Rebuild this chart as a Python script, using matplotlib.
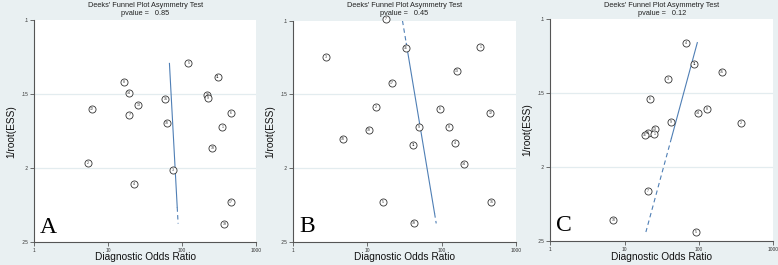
import matplotlib
matplotlib.use("Agg")
import matplotlib.pyplot as plt

# ---------------- data ----------------
a_dor = [122, 306, 16.4, 19.2, 220, 222, 59.5, 25.7, 5.95, 19.4, 455, 62, 351, 257, 5.37, 75.5, 22, 459, 373]
a_y = [0.1293, 0.1385, 0.1417, 0.1495, 0.1507, 0.1525, 0.1534, 0.1574, 0.1599, 0.1642, 0.1626, 0.1694, 0.1723, 0.1863, 0.1964, 0.2014, 0.2104, 0.2228, 0.2376]
a_lab = ["5", "11", "8", "14", "16", "9", "15", "13", "12", "7", "6", "10", "1", "18", "2", "3", "4", "17", "19"]

b_dor = [17.7, 33, 333, 2.76, 161, 21.5, 13, 96, 455, 49.4, 126, 10.5, 4.69, 151, 41.4, 202, 16, 469, 42.7]
b_y = [0.0989, 0.1183, 0.1181, 0.1249, 0.1342, 0.1421, 0.1586, 0.1600, 0.1629, 0.1719, 0.1724, 0.1742, 0.1805, 0.1828, 0.1844, 0.1973, 0.2229, 0.2229, 0.2376]
b_lab = ["7", "16", "1", "3", "13", "17", "2", "6", "12", "9", "8", "18", "10", "4", "11", "14", "5", "15", "19"]

c_dor = [67.9, 87, 203, 38.5, 22, 128, 97.5, 42.2, 370, 25.4, 20.5, 25.2, 18.7, 20.9, 7.06, 92.6]
c_y = [0.1158, 0.1303, 0.1357, 0.1407, 0.1538, 0.1610, 0.1635, 0.1694, 0.1705, 0.1743, 0.1773, 0.1775, 0.1786, 0.2164, 0.2358, 0.2441]
c_lab = ["4", "11", "15", "3", "6", "8", "14", "9", "2", "13", "12", "1", "16", "7", "10", "5"]

# regression lines: (dor, y) vertices with style of each segment
a_line_dor = [67.4, 85.9, 88.3]
a_line_y = [0.1293, 0.2264, 0.2374]
a_line_style = ["-", "--"]

b_line_dor = [29.7, 33.4, 80.4, 84.7]
b_line_y = [0.1000, 0.1154, 0.2307, 0.2376]
b_line_style = ["--", "-", "--"]

c_line_dor = [95.6, 42.9, 19.4]
c_line_y = [0.1158, 0.1804, 0.2441]
c_line_style = ["-", "--"]

pvalues = ["0.85", "0.45", "0.12"]
letters = ["A", "B", "C"]
xticks = [1, 10, 100, 1000]
xticklabels = ["1", "10", "100", "1000"]
yticks = [0.1, 0.15, 0.2, 0.25]
yticklabels = [".1", ".15", ".2", ".25"]

# ---------------- drawing ----------------
W, H = 778, 265
BG = "#e9f0f2"
LINEC = "#4f7fb5"
fig = plt.figure(figsize=(W / 100, H / 100), dpi=100, facecolor=BG)

# axes boxes in pixels: (left, right, top, bottom)
boxes = [(34.3, 256.0, 20.0, 242.3), (293.3, 515.7, 20.7, 241.7), (550.3, 773.0, 19.3, 240.7)]
panels = [
    (a_dor, a_y, a_lab, a_line_dor, a_line_y, a_line_style),
    (b_dor, b_y, b_lab, b_line_dor, b_line_y, b_line_style),
    (c_dor, c_y, c_lab, c_line_dor, c_line_y, c_line_style),
]
FONT = "Liberation Sans"

for i, ((l, r, t, b), (dor, yv, lab, ld, ly, ls)) in enumerate(zip(boxes, panels)):
    ax = fig.add_axes([l / W, 1 - b / H, (r - l) / W, (b - t) / H])
    ax.set_facecolor("white")
    ax.set_xscale("log")
    ax.set_xlim(1, 1000)
    ax.set_ylim(0.25, 0.1)
    for gy in [0.15, 0.2]:
        ax.axhline(gy, color="#e3ecef", lw=0.9, zorder=0)
    ax.set_xticks(xticks)
    ax.set_xticklabels(xticklabels, fontsize=3.5, family=FONT)
    ax.minorticks_off()
    ax.set_yticks(yticks)
    ax.set_yticklabels(yticklabels, fontsize=3.5, family=FONT)
    ax.tick_params(length=3, width=0.6, color="#555555", pad=1.2, labelcolor="#333333")
    for s in ["top", "right"]:
        ax.spines[s].set_visible(False)
    for s in ["left", "bottom"]:
        ax.spines[s].set_color("#555555")
        ax.spines[s].set_linewidth(0.8)

    # regression line segments
    for k, style in enumerate(ls):
        if style == "--":
            ax.plot(ld[k:k + 2], ly[k:k + 2], color=LINEC, lw=0.8, linestyle=(0, (4, 3)), zorder=2)
        else:
            ax.plot(ld[k:k + 2], ly[k:k + 2], color=LINEC, lw=0.8, zorder=2)

    ax.scatter(dor, yv, s=26, facecolor="white", edgecolor="#333333", linewidth=0.6, zorder=3, clip_on=False)
    for x, y, tx in zip(dor, yv, lab):
        ax.text(x, y, tx, fontsize=2.6, ha="center", va="center", color="#333333", family=FONT, zorder=4,
                clip_on=False)

    cx = (l + r) / 2 / W
    fig.text(cx, 1 - 257 / H, "Diagnostic Odds Ratio", fontsize=7.3, family=FONT,
             ha="center", va="center", color="#111111")
    fig.text((l - 22.6) / W, 1 - (t + b) / 2 / H, "1/root(ESS)", fontsize=7.3, family=FONT,
             ha="center", va="center", rotation=90, color="#111111")
    fig.text(cx, 1 - 5.3 / H, "Deeks' Funnel Plot Asymmetry Test", fontsize=5.3, family=FONT,
             ha="center", va="center", color="#222222")
    fig.text(cx, 1 - 13.5 / H, "pvalue =   " + pvalues[i], fontsize=5.3, family=FONT,
             ha="center", va="center", color="#222222")
    ax.text(0.025, 0.02, letters[i], transform=ax.transAxes, fontsize=17, family="Liberation Serif",
            ha="left", va="bottom", color="black")

fig.savefig("out.png", dpi=100, facecolor=BG)
